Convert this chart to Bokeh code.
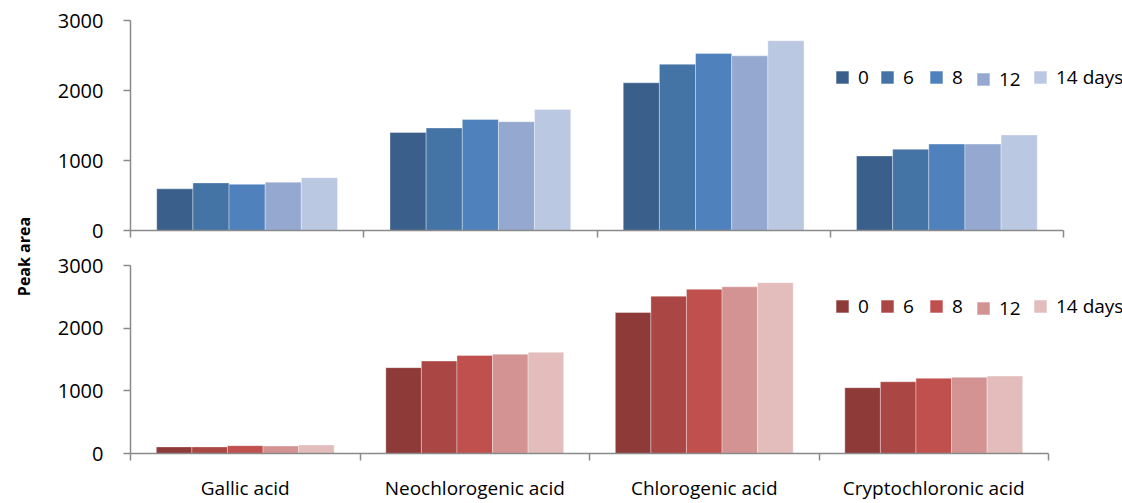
from math import pi
from bokeh.plotting import figure
from bokeh.models import Range1d, FixedTicker, Legend, LegendItem, Label, ColumnDataSource
from bokeh.layouts import row, column
from bokeh.embed import file_html
from bokeh.resources import INLINE

# ---------------- data ----------------
categories = ["Gallic acid", "Neochlorogenic acid", "Chlorogenic acid", "Cryptochloronic acid"]
day_labels = ["0", "6", "8", "12", "14 days"]
y_ticks = [0, 1000, 2000, 3000]

# upper panel (blue)
top_day0 = [595, 1400, 2110, 1065]
top_day6 = [680, 1465, 2375, 1160]
top_day8 = [660, 1585, 2530, 1235]
top_day12 = [690, 1555, 2495, 1235]
top_day14 = [755, 1730, 2710, 1365]

# lower panel (red)
bot_day0 = [105, 1370, 2250, 1050]
bot_day6 = [105, 1475, 2510, 1145]
bot_day8 = [125, 1565, 2620, 1200]
bot_day12 = [120, 1585, 2660, 1215]
bot_day14 = [135, 1615, 2725, 1235]

blue_colors = ["#3A5F8B", "#4473A6", "#4F81BD", "#95A9D0", "#BBC8E1"]
red_colors = ["#8E3A39", "#AA4644", "#C0504D", "#D39392", "#E3BCBC"]

FONT = "Open Sans"
AX = "#8A8A8A"
BAR_W = 0.155
FIG_W = 1084
LEFT = 92
LEG_X = [704, 749, 798, 845, 902]      # legend item offsets (px from frame left)
LEG_DY = [0, 0, 0, -2, 0]


def make_panel(series, colors, height, b_top, b_bottom, px_per_cat, legend_y, labelled):
    frame_w = FIG_W - LEFT
    p = figure(width=FIG_W, height=height, toolbar_location=None, output_backend="svg",
               x_range=Range1d(0, frame_w / px_per_cat), y_range=Range1d(0, 3000),
               min_border_left=LEFT, min_border_right=0,
               min_border_top=b_top, min_border_bottom=b_bottom,
               outline_line_color=None, background_fill_color="white")
    p.xgrid.visible = False
    p.ygrid.visible = False

    rends = []
    n = len(series)
    for j, vals in enumerate(series):
        xs = [i + 0.5 + (j - (n - 1) / 2) * BAR_W for i in range(len(categories))]
        src = ColumnDataSource(dict(x=xs, top=vals))
        r = p.vbar(x="x", top="top", width=BAR_W, bottom=0, source=src,
                   fill_color=colors[j], line_color="white", line_alpha=0.35, line_width=1)
        rends.append(r)

    # y axis
    ya = p.yaxis[0]
    ya.ticker = FixedTicker(ticks=y_ticks)
    ya.axis_line_color = AX
    ya.axis_line_width = 1.5
    ya.major_tick_line_color = AX
    ya.major_tick_line_width = 1.5
    ya.major_tick_out = 7
    ya.major_tick_in = 0
    ya.minor_tick_line_color = None
    ya.major_label_standoff = 20
    ya.major_label_text_font = FONT
    ya.major_label_text_font_size = "20px"
    ya.major_label_text_color = "black"

    # x axis: tick marks at category boundaries, labels at category centres
    ncat = len(categories)
    xa = p.xaxis[0]
    xa.bounds = (0, ncat)
    xa.axis_line_color = AX
    xa.axis_line_width = 1.5
    xa.minor_tick_line_color = AX
    xa.minor_tick_line_width = 1.5
    xa.minor_tick_out = 7
    xa.minor_tick_in = 0
    xa.major_tick_line_color = None
    xa.major_tick_out = 0
    xa.major_tick_in = 0
    centres = [i + 0.5 for i in range(ncat)]
    xa.ticker = FixedTicker(ticks=centres, minor_ticks=list(range(ncat + 1)))
    if labelled:
        xa.major_label_overrides = {c: name for c, name in zip(centres, categories)}
        xa.major_label_text_font = FONT
        xa.major_label_text_font_size = "19px"
        xa.major_label_text_color = "black"
        xa.major_label_standoff = 14
    else:
        xa.major_label_overrides = {c: "" for c in centres}
        xa.major_label_text_font_size = "0px"
        xa.major_label_standoff = 0

    for j, r in enumerate(rends):
        leg = Legend(items=[LegendItem(label=day_labels[j], renderers=[r])],
                     orientation="horizontal", location=(LEG_X[j], legend_y + LEG_DY[j]),
                     glyph_width=16, glyph_height=16, label_standoff=8, spacing=0,
                     padding=0, margin=0, border_line_color=None, background_fill_alpha=0,
                     label_text_font=FONT, label_text_font_size="19px", label_text_color="black")
        p.add_layout(leg, "center")
    return p


top = make_panel([top_day0, top_day6, top_day8, top_day12, top_day14], blue_colors,
                 height=248, b_top=20, b_bottom=18, px_per_cat=233.25, legend_y=140, labelled=False)
top.add_layout(Label(x=903, y=220, x_units="screen", y_units="screen", text="flavonoids",
                     text_font=FONT, text_font_size="19px", text_color="#9CCAE0",
                     text_baseline="alphabetic"))

bot = make_panel([bot_day0, bot_day6, bot_day8, bot_day12, bot_day14], red_colors,
                 height=255, b_top=17, b_bottom=41, px_per_cat=229.5, legend_y=134, labelled=True)

lab = figure(width=38, height=503, toolbar_location=None, output_backend="svg",
             x_axis_type=None, y_axis_type=None, min_border=0, outline_line_color=None,
             x_range=Range1d(0, 1), y_range=Range1d(0, 1))
lab.xgrid.visible = False
lab.ygrid.visible = False
lab.add_layout(Label(x=23, y=247, x_units="screen", y_units="screen", text="Peak area",
                     angle=pi / 2, text_align="center", text_baseline="middle",
                     text_font=FONT, text_font_size="16px", text_font_style="bold",
                     text_color="black"))

layout = row(lab, column(top, bot))
open("out.html", "w").write(file_html(layout, INLINE))
